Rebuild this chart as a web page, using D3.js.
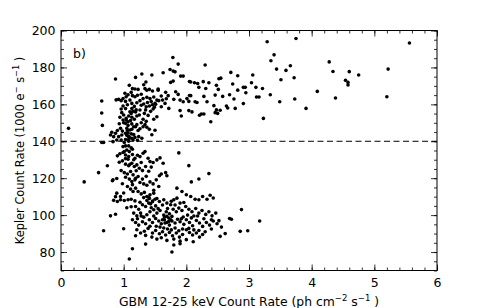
<!DOCTYPE html>
<html>
<head>
<meta charset="utf-8">
<script src="https://cdn.jsdelivr.net/npm/d3@7"></script>
<style>
  body { margin: 0; background: #fff; }
  svg text { font-family: "DejaVu Sans", sans-serif; fill: #000; }
</style>
</head>
<body>
<svg id="chart" width="485" height="308"></svg>
<script>
// GBM rate (x) vs Kepler rate (y)
var gbmRate = [
  0.12,0.37,0.60,0.68,0.65,0.65,0.66,0.65,0.68,0.74,0.79,0.87,0.84,0.87,0.82,0.87,1.09,1.14,1.00,1.35,1.77,1.88,2.04,2.08,2.20,2.36,2.88,3.17,2.86,2.98,2.69,2.72,2.62,2.54,2.39,3.23,3.91,4.09,4.38,5.20,5.22,5.56,
  3.29,3.75,3.35,3.40,3.44,3.51,3.59,3.66,3.72,3.73,3.49,3.34,3.12,3.16,3.215,3.11,3.06,3.04,2.91,2.94,2.95,2.82,2.71,2.74,2.82,2.69,2.76,2.78,2.91,2.64,2.66,4.54,4.58,4.58,4.60,4.75,4.28,4.34,
  1.785,1.87,2.30,1.74,1.79,1.82,1.63,1.45,1.29,1.19,1.355,1.32,1.91,1.95,1.75,1.79,2.05,2.07,2.13,2.18,2.27,2.36,2.55,2.52,2.48,2.51,2.31,2.20,2.05,2.07,2.01,2.28,2.46,2.58,1.83,1.87,1.67,1.55,1.71,1.80,1.90,1.95,2.04,2.14,1.72,1.90,1.92,2.04,2.09,2.21,2.24,2.28,2.33,2.44,2.48,2.50,2.46,2.54,2.17,1.56,1.62,1.60,1.50,
  0.88,0.92,0.96,0.99,1.04,1.07,1.14,1.18,1.22,1.09,1.14,1.18,1.23,1.34,1.37,1.41,1.46,1.55,1.10,1.13,1.17,1.21,1.26,1.31,1.37,1.42,1.48,1.53,1.32,1.36,1.41,1.46,1.49,1.26,1.33,1.39,1.43,1.47,1.25,1.31,1.36,
  0.99,1.03,1.06,1.03,0.97,1.00,0.94,0.99,1.04,1.08,1.12,1.15,1.19,1.21,1.17,1.03,1.07,1.13,1.05,1.10,1.16,1.19,1.23,1.26,1.31,0.95,0.90,0.87,0.81,0.79,0.84,
  0.92,0.97,1.03,1.08,1.13,1.18,1.24,1.29,0.83,0.89,0.96,1.01,1.08,1.15,1.37,1.41,1.48,1.53,1.13,1.10,
  1.07,1.05,1.09,1.03,1.12,1.08,1.04,1.07,1.11,1.13,
  0.99,1.03,1.08,1.12,0.90,0.94,0.99,1.03,1.08,1.14,1.18,1.22,1.26,1.31,1.34,1.39,1.42,1.47,1.53,0.93,0.98,1.03,1.08,1.13,1.17,1.21,1.25,1.30,1.35,1.40,1.58,1.63,
  0.96,1.01,1.06,1.11,1.15,1.19,1.03,1.09,1.13,1.18,1.23,0.83,0.89,1.26,1.32,1.37,1.42,1.47,1.52,1.57,1.60,1.67,1.69,
  1.06,1.11,1.15,1.19,1.23,1.28,1.33,1.37,1.42,0.89,0.95,1.01,1.07,1.12,1.18,1.48,1.53,1.57,1.64,1.69,1.75,1.80,1.85,1.90,1.96,
  1.85,1.93,2.00,2.07,2.14,2.20,2.26,2.33,2.38,2.43,
  1.19,1.24,1.30,1.35,1.40,1.46,1.51,1.16,1.21,1.27,1.32,1.37,1.42,1.48,1.53,1.58,1.64,1.68,1.73,
  1.79,1.84,1.88,1.93,1.99,2.04,2.09,2.15,2.20,2.25,2.31,2.36,2.41,2.47,
  1.14,1.19,1.24,1.30,1.35,1.41,1.46,1.51,1.56,1.60,1.65,1.69,1.73,1.77,1.82,1.86,
  1.90,1.96,2.00,2.05,2.10,2.16,2.21,2.26,2.32,2.37,2.43,2.49,
  1.21,1.27,1.33,1.39,1.46,1.51,1.57,1.62,1.67,1.73,1.78,1.84,1.89,1.94,2.00,2.05,2.10,2.16,2.21,2.26,
  1.45,1.53,1.60,1.69,1.80,1.90,2.00,2.11,1.19,1.80,1.90,
  1.69,1.72,1.75,1.65,1.62,1.72,1.66,1.77,1.37,1.41,1.46,1.50,1.40,1.43,
  1.05,1.09,1.01,1.14,1.07,1.03,0.90,0.95,
  1.02,1.12,1.28,1.38,1.44,1.51,1.20,1.28,1.35,0.96,1.00,1.13,1.21,1.28,1.34,0.93,0.98,1.06,1.16,1.22,1.45,1.50,1.60,1.66,1.68,
  1.10,1.16,1.20,1.28,1.44,1.36,1.14,1.30,1.48,1.56,1.26,1.32,1.44,1.55,1.62,1.70,1.76,1.82,1.95,2.02,2.12,2.28,2.40,
  1.58,1.64,1.70,1.76,1.82,1.88,1.94,2.04,2.12,2.20,2.30,2.40,1.35,1.42,1.52,1.28,1.22,1.48,1.92,2.08,2.18,2.52,2.56,1.12,1.05,0.98,1.00
];
var keplerRate = [
  147,118,123,91.5,161.8,155.3,148.6,139.3,139.3,126.7,99.6,100.5,108,110,118.6,173.7,76.2,81.8,92.6,84.3,80,133.7,126.8,118,119.6,122.5,103,96.8,91.2,91.5,98.2,97.8,90,88.5,150.6,152.4,157.8,167,163.4,164.1,179.1,193.2,
  193.9,195.7,183.6,186.8,179.1,173.3,178.4,180.9,174.4,162.9,161.4,165.2,164,164,168.6,169.2,175.9,171.7,169.2,169.2,166.3,175.5,177.3,171,167.7,165.2,162.9,157.8,160.4,159.1,158,173,171.9,170.5,177.7,175.9,183,177.8,
  185.4,181.8,181.3,178.9,178,177.6,177.1,175.9,176.4,174.6,172.1,170.6,175.3,175.3,171.9,172.6,172.4,172.1,171.7,171.3,172.3,171.7,174.2,173.9,170.3,168.1,168.6,169.2,164.8,164.7,163.1,164.3,165,164.3,166.8,165.4,166.5,167.7,164.7,162.7,162.3,161.4,161.6,161.4,157.8,156.6,153.7,156.6,155.9,154.1,154.8,154.8,161.4,159.3,157,155.1,155.5,156.8,161,162,162.3,158.7,160.5,
  162.4,162.7,162,163.1,164.1,165.2,164.7,164.1,164.9,170.3,168.5,168.3,168.1,168.5,167.6,168.1,167.2,168.3,162.3,160.5,158.9,160.9,162,163.1,163.8,163.1,164,162.3,160.2,158.7,159.1,159.8,158.4,156.9,155.1,154,156.2,157.5,154.2,151.9,150.8,
  159.1,157.7,159.8,161.6,155.5,154.2,153,151.5,152.4,153.7,155.1,156.2,155.9,153.7,151.9,149.7,148.6,149.4,147,146.1,147.9,147.9,145.8,146.8,147.9,147,145.8,144.3,144.9,143.4,142.5,
  142.5,143.4,144.3,142.5,141.6,142.1,142.5,141.6,139.8,140.7,140.7,139.3,140,140.7,147.6,146.5,151.9,153.3,157.7,156,
  144.5,143.2,142.1,140.9,144,140.9,151.5,150.6,151.2,153,
  137.1,137.5,137.5,136.4,132.1,133.2,133.9,132.6,131.7,132.8,130.8,132.4,131.7,133.5,134.4,130.8,129,128.5,129.9,128.6,129.4,127.6,126.7,128.1,126.3,127.2,125.4,124.1,126.3,123.8,131,128.1,
  124.1,123,122.3,123.6,121.8,120,120.5,119.5,118.2,119.1,120.9,119.1,119.8,117.7,116.9,116.2,118,116.9,119.1,121.3,122.3,123,121.3,
  115.5,114.1,112.8,114.6,112.8,111.5,112.3,110.1,111,111.9,110.1,107.9,108.3,108.6,107.7,111.9,109,107.4,108.3,106.5,105.6,108.3,109.2,106.5,106.8,
  114.6,112.8,111,110.1,108.6,108.3,110.1,108.6,110.8,109.3,
  104.7,103.2,105.6,104.7,106.5,107.2,105,101.1,99.6,101.1,98.9,100.2,101.8,102.9,101.1,102.5,100,101.8,100.7,
  103.2,101.8,103.8,102.5,104.7,103.2,101.8,103.6,101.1,102.5,100.4,101.8,99.6,101.1,
  97.5,96,94.6,96.4,95.3,97.5,96,98.2,96.8,95.3,97.5,96,94.6,96.8,95.7,97.8,
  96.4,95,97.5,96,94.2,97.1,95.7,93.9,96,94.6,96.8,95.3,
  92.1,90.3,91.3,92.8,90.3,91.7,89.9,91,89.2,90.6,88.8,90.3,88.1,89.5,92.1,90.6,89.2,90.3,88.1,89.5,
  88.1,87,87.7,86.3,87,85.9,86.7,85.6,88.8,83.8,84.5,
  99.3,98.4,97.5,99,97.5,96.6,95.7,99.3,107.9,109,107.6,108.6,109.7,106.1,
  135.3,134.4,134.4,135.7,130.3,130.6,107.4,108.3,
  166,166.5,165.5,161,161.5,160,157,159.5,157,157.5,150,146.5,149,150,149,149.5,145.5,145.8,143.6,140.5,143.5,146,164.5,160.5,163,
  127.5,130,124,128.5,126,121,116.5,119.5,113.5,115.5,107,109.5,104,103.5,105.5,103.6,107.5,105.5,99,100,99.5,98,97.5,
  93.5,93,92.5,92,93,91.5,92.5,92.8,92,91.7,91,92.5,89,94,94,99.5,98,99.5,98,98.5,99.5,97,93.5,104.5,104,117,112
];
var xTicks = [0, 1, 2, 3, 4, 5, 6];
var yTicks = [80, 100, 120, 140, 160, 180, 200];
var thresholdRate = [140];

var margin = {top: 30.5, right: 48, bottom: 37.5, left: 61};
var width = 485 - margin.left - margin.right;
var height = 308 - margin.top - margin.bottom;

var svg = d3.select('#chart');
var g = svg.append('g').attr('transform', 'translate(' + margin.left + ',' + margin.top + ')');

var x = d3.scaleLinear().domain([0, 6]).range([0, width]);
var y = d3.scaleLinear().domain([70, 200]).range([height, 0]);

var xMinor = d3.range(0, 6.001, 0.2);
var yMinor = d3.range(70, 200.001, 5);

// inward ticks on all four sides
function tickAxis(axisFn, scale, values, size, fmt, transform, pad) {
    var ax = axisFn(scale).tickValues(values).tickSizeInner(-size).tickSizeOuter(0).tickPadding(pad || 6);
    ax.tickFormat(fmt || '');
    var sel = g.append('g').attr('transform', transform || null).call(ax);
    sel.select('.domain').remove();
    sel.selectAll('line').attr('stroke', '#000').attr('stroke-width', 0.8);
    sel.selectAll('text').attr('font-size', '12.5px').attr('font-family', 'DejaVu Sans, sans-serif');
    return sel;
}
var fmtInt = d3.format('d');
tickAxis(d3.axisBottom, x, xMinor, 3, null, 'translate(0,' + height + ')');
tickAxis(d3.axisBottom, x, xTicks, 6, fmtInt, 'translate(0,' + height + ')', 7.5);
tickAxis(d3.axisTop, x, xMinor, 3, null, 'translate(0,0)');
tickAxis(d3.axisTop, x, xTicks, 6, null, 'translate(0,0)');
tickAxis(d3.axisLeft, y, yMinor, 3, null);
tickAxis(d3.axisLeft, y, yTicks, 6, fmtInt, null, 5.5);
tickAxis(d3.axisRight, y, yMinor, 3, null, 'translate(' + width + ',0)');
tickAxis(d3.axisRight, y, yTicks, 6, null, 'translate(' + width + ',0)');

// threshold line
g.selectAll('.thresh').data(thresholdRate).enter().append('line')
    .attr('class', 'thresh')
    .attr('x1', 0).attr('x2', width)
    .attr('y1', function (d) { return y(d); }).attr('y2', function (d) { return y(d); })
    .attr('stroke', '#000').attr('stroke-width', 1)
    .attr('stroke-dasharray', '6,3.5');

// points
var pts = gbmRate.map(function (d, i) { return {gx: d, ky: keplerRate[i]}; });
g.selectAll('.pt').data(pts).enter().append('circle')
    .attr('class', 'pt')
    .attr('cx', function (d) { return x(d.gx); })
    .attr('cy', function (d) { return y(d.ky); })
    .attr('r', 1.8)
    .attr('fill', '#000');

// frame
g.append('rect').attr('width', width).attr('height', height)
    .attr('fill', 'none').attr('stroke', '#000').attr('stroke-width', 1);

// panel label
g.append('text').attr('x', 12).attr('y', 27.5).attr('font-size', '12.5px').text('b)');

// axis titles
var xl = svg.append('text').attr('x', margin.left + width / 2).attr('y', 305.5)
    .attr('text-anchor', 'middle').attr('font-size', '12.4px');
xl.append('tspan').text('GBM 12-25 keV Count Rate (ph cm');
xl.append('tspan').attr('dy', -5).attr('font-size', '8.5px').text('\u22122');
xl.append('tspan').attr('dy', 5).text('  s');
xl.append('tspan').attr('dy', -5).attr('font-size', '8.5px').text('\u22121');
xl.append('tspan').attr('dy', 5).text(' )');

var yl = svg.append('text')
    .attr('transform', 'translate(24,' + (margin.top + height / 2) + ') rotate(-90)')
    .attr('text-anchor', 'middle').attr('font-size', '11.4px');
yl.append('tspan').text('Kepler Count Rate (1000 e');
yl.append('tspan').attr('dy', -5).attr('font-size', '8.2px').text('\u2212');
yl.append('tspan').attr('dy', 5).text('  s');
yl.append('tspan').attr('dy', -5).attr('font-size', '8.2px').text('\u22121');
yl.append('tspan').attr('dy', 5).text(' )');
</script>
</body>
</html>
